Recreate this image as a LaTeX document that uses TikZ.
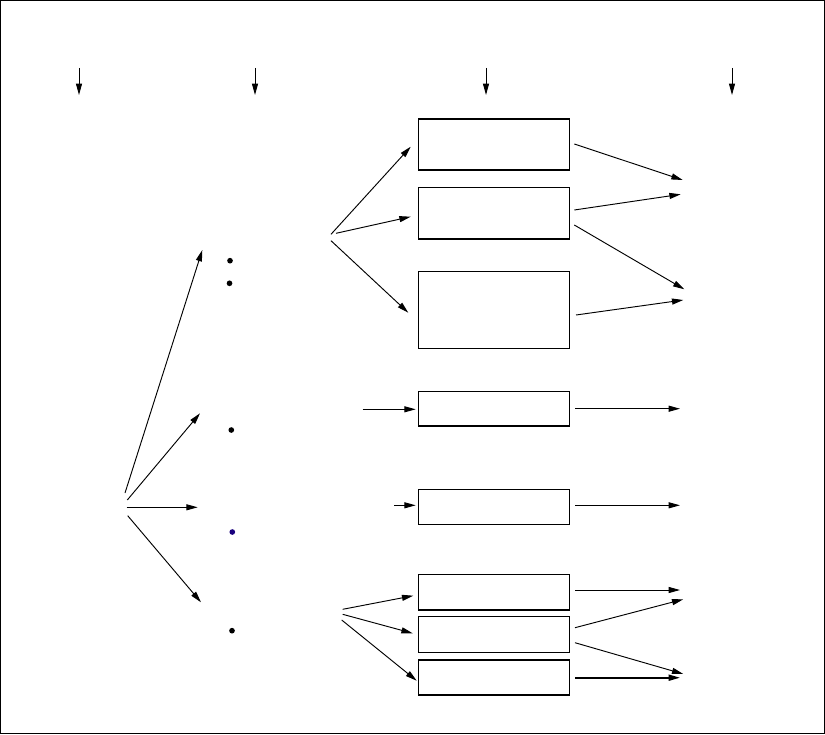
\documentclass[tikz,border=0pt]{standalone}
\usetikzlibrary{arrows.meta,positioning}

\begin{document}
\begin{tikzpicture}[x=0.03cm, y=-0.03cm,
        stage/.style={rectangle, draw, line width=1.1pt, inner sep=0pt, minimum width=4.53cm},
        arrow/.style={-{Triangle[length=3.4mm, width=1.8mm]}, line width=0.8pt},
        thickarrow/.style={arrow, line width=1.5pt},
        marker/.style={circle, fill=black, inner sep=0pt, minimum size=1.7mm}]

        \useasboundingbox (0,0) rectangle (825,734);
        \draw[line width=0.9pt] (0.5,0.5) rectangle (824.5,733.5);

        % column headers
        \foreach \x [count=\i] in {79,255,486,732} {
            \coordinate (h\i) at (\x,68);
            \coordinate (hh\i) at (\x,95);
            \draw[arrow] (h\i) -- (hh\i);
        }

        % stages
        \node[stage, minimum height=1.53cm] (s1) at (493.8,144.5) {};
        \node[stage, minimum height=1.54cm] (s2) at (493.8,213.3) {};
        \node[stage, minimum height=2.30cm] (s3) at (493.8,310) {};
        \node[stage, minimum height=1.03cm] (s4) at (493.8,408.9) {};
        \node[stage, minimum height=1.05cm] (s5) at (493.8,506.8) {};
        \node[stage, minimum height=1.07cm] (s6) at (493.8,592.2) {};
        \node[stage, minimum height=1.07cm] (s7) at (493.8,634.5) {};
        \node[stage, minimum height=1.05cm] (s8) at (493.8,677.5) {};

        % bullets
        \node[marker] (b1) at (230,260.7) {};
        \node[marker] (b2) at (229.5,283.3) {};
        \node[marker] (b3) at (231.3,430) {};
        \node[marker, fill=blue!55!black!90!red] (b4) at (232.3,532) {};
        \node[marker] (b5) at (232,630.7) {};

        % root fan
        \coordinate (r1) at (125,493);
        \coordinate (r2) at (127.3,500);
        \coordinate (r3) at (126.7,507.3);
        \coordinate (r4) at (127.7,515.7);
        \coordinate (g1) at (202.3,250);
        \coordinate (g2) at (200,413.3);
        \coordinate (g3) at (197.7,507.3);
        \coordinate (g4) at (201,602.3);
        \draw[arrow] (r1) -- (g1);
        \draw[arrow] (r2) -- (g2);
        \draw[arrow] (r3) -- (g3);
        \draw[arrow] (r4) -- (g4);

        % upper fan
        \coordinate (u1) at (331,234.3);
        \coordinate (u2) at (336,233.3);
        \coordinate (u3) at (331,240.7);
        \coordinate (ue1) at (410.7,146.7);
        \coordinate (ue2) at (410.7,216.7);
        \coordinate (ue3) at (408.3,312.7);
        \draw[arrow] (u1) -- (ue1);
        \draw[arrow] (u2) -- (ue2);
        \draw[arrow] (u3) -- (ue3);

        % single inputs
        \coordinate (i4) at (362.7,409.3);
        \coordinate (ie4) at (415.7,409.3);
        \coordinate (i5) at (394,505.3);
        \coordinate (ie5) at (415.7,505.3);
        \draw[arrow] (i4) -- (ie4);
        \draw[arrow] (i5) -- (ie5);

        % lower fan
        \coordinate (l1) at (342.7,609.3);
        \coordinate (l2) at (342.7,614.3);
        \coordinate (l3) at (341.7,620);
        \coordinate (le1) at (413.3,595.7);
        \coordinate (le2) at (412.7,633.3);
        \coordinate (le3) at (416.7,680.7);
        \draw[arrow] (l1) -- (le1);
        \draw[arrow] (l2) -- (le2);
        \draw[arrow] (l3) -- (le3);

        % outputs
        \coordinate (o1) at (574.3,144);   \coordinate (t1) at (682.7,180);
        \coordinate (o2) at (574.3,210);   \coordinate (t2) at (680.7,194.3);
        \coordinate (o3) at (574.3,225);   \coordinate (t3) at (684.3,289.3);
        \coordinate (o4) at (576,315);     \coordinate (t4) at (683.3,300);
        \coordinate (o5) at (575,408.7);   \coordinate (t5) at (680,408.7);
        \coordinate (o6) at (575,505.3);   \coordinate (t6) at (680,505.3);
        \coordinate (o7) at (575,590);     \coordinate (t7) at (680,590);
        \coordinate (o8) at (575,627.7);   \coordinate (t8) at (683.3,599.3);
        \coordinate (o9) at (575,642.7);   \coordinate (t9) at (683.3,674);
        \coordinate (o10) at (575,677.7);  \coordinate (t10) at (680,677.7);
        \foreach \i in {1,...,9}
            \draw[arrow] (o\i) -- (t\i);
        \draw[thickarrow] (o10) -- (t10);
    \end{tikzpicture}
\end{document}
